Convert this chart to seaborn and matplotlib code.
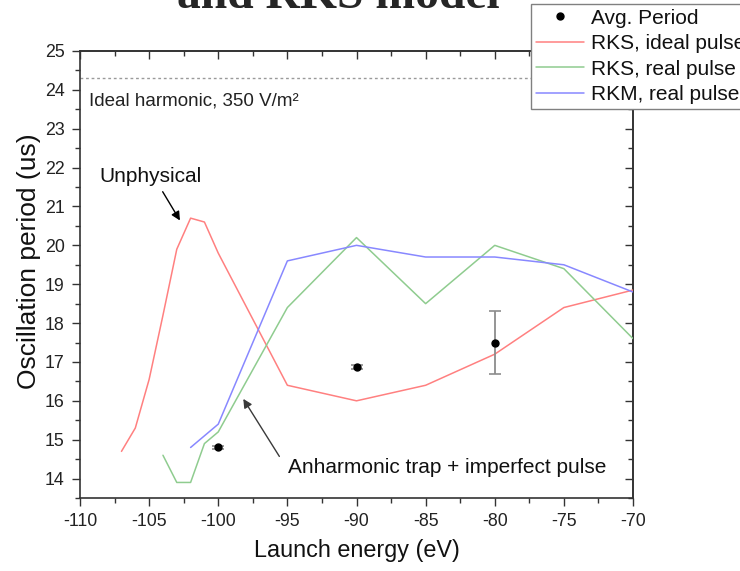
import numpy as np
import pandas as pd
import matplotlib
matplotlib.use("Agg")
import matplotlib.pyplot as plt
import seaborn as sns
from matplotlib.ticker import MultipleLocator

# ---- data ----
avg_x = [-100, -90, -80]
avg_y = [14.8, 16.87, 17.5]
avg_err = [0.03, 0.05, 0.81]

rks_ideal_x = [-107, -106, -105, -104, -103, -102, -101, -100, -95, -90, -85, -80, -75, -70]
rks_ideal_y = [14.7, 15.3, 16.55, 18.2, 19.9, 20.7, 20.6, 19.8, 16.4, 16.0, 16.4, 17.2, 18.4, 18.85]
rks_real_x = [-104, -103, -102, -101, -100, -95, -90, -85, -80, -75, -70]
rks_real_y = [14.6, 13.9, 13.9, 14.9, 15.2, 18.4, 20.2, 18.5, 20.0, 19.4, 17.6]
rkm_real_x = [-102, -100, -95, -90, -85, -80, -75, -70]
rkm_real_y = [14.8, 15.4, 19.6, 20.0, 19.7, 19.7, 19.5, 18.8]
ideal_harmonic = 24.3

series_names = ["RKS, ideal pulse", "RKS, real pulse", "RKM, real pulse"]
series_colors = ["#ff8080", "#8fcc8f", "#8888ff"]

df = pd.concat([
    pd.DataFrame({"energy": rks_ideal_x, "period": rks_ideal_y, "series": series_names[0]}),
    pd.DataFrame({"energy": rks_real_x, "period": rks_real_y, "series": series_names[1]}),
    pd.DataFrame({"energy": rkm_real_x, "period": rkm_real_y, "series": series_names[2]}),
], ignore_index=True)

sns.set_theme(style="ticks")
plt.rcParams["font.family"] = ["Liberation Sans", "DejaVu Sans"]
plt.rcParams["axes.unicode_minus"] = False

W, H = 740, 571
fig = plt.figure(figsize=(W / 100, H / 100), dpi=100)
fig.patch.set_facecolor("white")
L, R, T, B = 80, 633, 51, 498
ax = fig.add_axes([L / W, 1 - B / H, (R - L) / W, (B - T) / H])
ax.set_facecolor("white")

ax.axhline(ideal_harmonic, color="#9a9a9a", lw=1, ls=(0, (2, 2)), zorder=1)

ax.errorbar(avg_x, avg_y, yerr=avg_err, fmt="none", ecolor="#8c8c8c",
            elinewidth=1.3, capsize=4, capthick=1.2, zorder=4)
ax.plot(avg_x, avg_y, "o", ms=5, color="black", label="Avg. Period", zorder=5)

sns.lineplot(data=df, x="energy", y="period", hue="series", hue_order=series_names,
             palette=dict(zip(series_names, series_colors)), estimator=None, sort=False,
             lw=1.1, ax=ax, zorder=3)

ax.set_xlim(-110, -70)
ax.set_ylim(13.5, 25)
ax.xaxis.set_major_locator(MultipleLocator(5))
ax.xaxis.set_minor_locator(MultipleLocator(2.5))
ax.yaxis.set_major_locator(MultipleLocator(1))
ax.yaxis.set_minor_locator(MultipleLocator(0.5))
ax.tick_params(which="major", direction="out", length=6, width=1, pad=5,
               labelsize=12.8, color="#333333", labelcolor="#222222")
ax.tick_params(which="minor", direction="out", length=3.5, width=1, color="#333333")
for s in ax.spines.values():
    s.set_color("#333333")
    s.set_linewidth(1.2)

secx = ax.secondary_xaxis("top")
secx.xaxis.set_major_locator(MultipleLocator(5))
secx.xaxis.set_minor_locator(MultipleLocator(2.5))
secx.tick_params(which="major", direction="in", length=6, width=1, labeltop=False, color="#333333")
secx.tick_params(which="minor", direction="in", length=3.5, width=1, color="#333333")
secx.spines["top"].set_color("#333333")
secx.spines["top"].set_linewidth(1.2)
secy = ax.secondary_yaxis("right")
secy.yaxis.set_major_locator(MultipleLocator(1))
secy.yaxis.set_minor_locator(MultipleLocator(0.5))
secy.tick_params(which="major", direction="in", length=6, width=1, labelright=False, color="#333333")
secy.tick_params(which="minor", direction="in", length=3.5, width=1, color="#333333")
secy.spines["right"].set_color("#333333")
secy.spines["right"].set_linewidth(1.2)

ax.set_xlabel("Launch energy (eV)", fontsize=16.8, color="#111111")
ax.set_ylabel("Oscillation period (us)", fontsize=19, color="#111111")
ax.xaxis.set_label_coords(0.5, (B - 539) / (B - T))
ax.yaxis.set_label_coords((41 - L) / (R - L), 0.53)

# annotations
ax.text(-109.35, 23.61, "Ideal harmonic, 350 V/m²", ha="left", va="baseline",
        fontsize=13.5, color="#222222")
ax.text(-104.9, 21.64, "Unphysical", ha="center", va="baseline", fontsize=15, color="#111111")
ax.annotate("", xy=(-102.77, 20.64), xytext=(-104.02, 21.38),
            arrowprops=dict(arrowstyle="-|>", color="black", lw=1, mutation_scale=13,
                            shrinkA=0, shrinkB=0))
ax.text(-71.95, 14.14, "Anharmonic trap + imperfect pulse", ha="right", va="baseline",
        fontsize=15, color="#111111")
ax.annotate("", xy=(-98.19, 16.05), xytext=(-95.58, 14.57),
            arrowprops=dict(arrowstyle="-|>", color="#3a3a3a", lw=1, mutation_scale=13,
                            shrinkA=0, shrinkB=0))

# legend (partly outside the figure, as in the reference)
handles, labels = ax.get_legend_handles_labels()
order = [labels.index(n) for n in ["Avg. Period"] + series_names]
leg = ax.legend([handles[i] for i in order], [labels[i] for i in order],
                loc="upper left", bbox_to_anchor=(531 / W, 1 - 4 / H),
                bbox_transform=fig.transFigure, frameon=True, fancybox=False,
                edgecolor="#808080", framealpha=1, fontsize=15, borderpad=0.22,
                labelspacing=0.31, handlelength=2.3, handletextpad=0.35,
                borderaxespad=0)
leg.get_frame().set_linewidth(1)
for t in leg.get_texts():
    t.set_color("#111111")

# title, mostly cut off at the top
fig.text(338.5 / W, 1 - 8 / H, "and RKS model", ha="center", va="baseline",
         fontfamily=["Liberation Serif", "DejaVu Serif"], fontweight="bold", fontsize=34.3)

fig.savefig("out.png", dpi=100)
